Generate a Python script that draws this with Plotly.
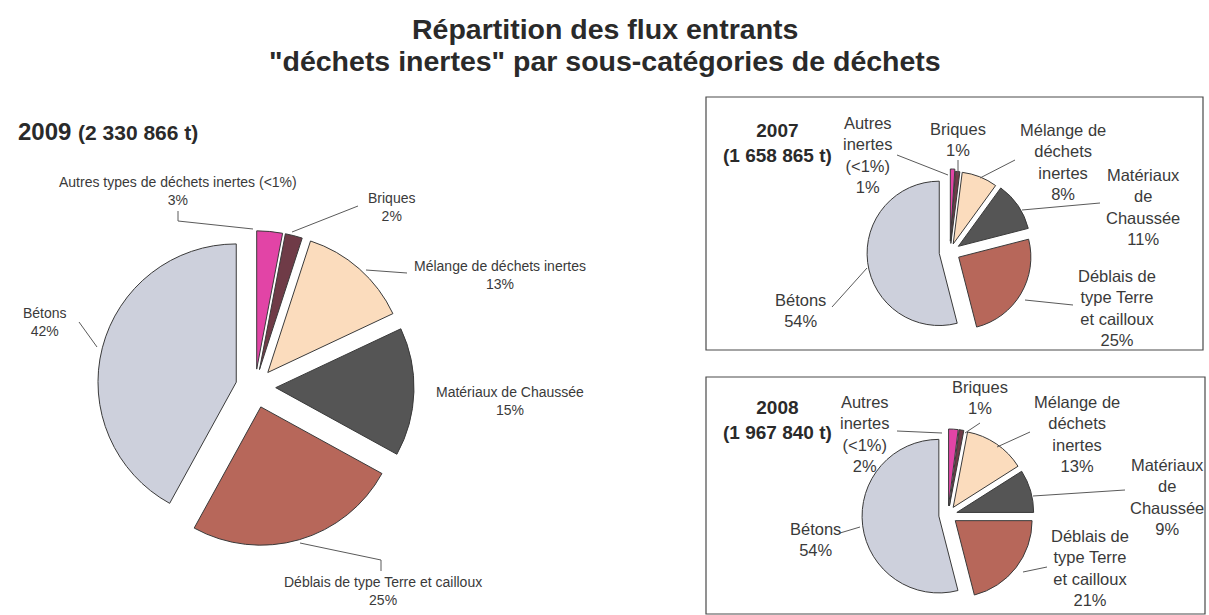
import plotly.graph_objects as go

# Sous-catégories de déchets inertes (ordre horaire à partir de midi)
categories = [
    "Autres types de déchets inertes (<1%)",
    "Briques",
    "Mélange de déchets inertes",
    "Matériaux de Chaussée",
    "Déblais de type Terre et cailloux",
    "Bétons",
]
# Libellés courts des encadrés 2007 / 2008
short_labels = [
    "Autres<br>inertes<br>(<1%)",
    "Briques",
    "Mélange de<br>déchets<br>inertes",
    "Matériaux<br>de<br>Chaussée",
    "Déblais de<br>type Terre<br>et cailloux",
    "Bétons",
]
pct_2009 = [3, 2, 13, 15, 25, 42]
pct_2007 = [1, 1, 8, 11, 25, 54]
pct_2008 = [2, 1, 13, 9, 21, 54]
tonnage = {"2009": "2 330 866 t", "2007": "1 658 865 t", "2008": "1 967 840 t"}

colors = ["#e244a6", "#6f3b47", "#fbdcbd", "#555555", "#b7675a", "#cdd0dc"]

W, H = 1209, 615
FONT = "Liberation Sans, Arial"


def px(x):
    return x / W


def py(y):
    return 1 - y / H


def pie(values, box, pull):
    x0, y0, x1, y1 = box
    return go.Pie(
        values=values,
        labels=categories,
        sort=False,
        direction="clockwise",
        rotation=0,
        pull=pull,
        textinfo="none",
        hoverinfo="label+percent",
        marker=dict(colors=colors, line=dict(color="#3a3a3a", width=1)),
        domain=dict(x=[px(x0), px(x1)], y=[py(y1), py(y0)]),
        showlegend=False,
    )


fig = go.Figure()
fig.add_trace(pie(pct_2009, (96, 228, 414, 546), [0.13, 0.13, 0.14, 0.15, 0.15, 0.14]))
fig.add_trace(pie(pct_2007, (867, 169, 1033, 335), [0.15, 0.12, 0.12, 0.14, 0.14, 0.15]))
fig.add_trace(pie(pct_2008, (862, 429, 1034, 601), [0.12, 0.12, 0.12, 0.12, 0.12, 0.12]))

annotations = []
shapes = []
TXT = "#3a3a3a"


def label(x, y, text, size):
    annotations.append(dict(
        x=px(x), y=py(y), xref="paper", yref="paper", text=text,
        showarrow=False, xanchor="center", yanchor="middle", align="center",
        font=dict(family=FONT, size=size, color=TXT),
    ))


def leader(points):
    path = "M " + " L ".join(f"{px(a)},{py(b)}" for a, b in points)
    shapes.append(dict(type="path", path=path, xref="paper", yref="paper",
                       line=dict(color="#5a5a5a", width=1)))


# --- titre ------------------------------------------------------------
for text, y in (("Répartition des flux entrants", 29),
                ("\"déchets inertes\" par sous-catégories de déchets", 61)):
    annotations.append(dict(
        x=0.5, y=py(y), xref="paper", yref="paper", xanchor="center", yanchor="middle",
        showarrow=False, text=f"<b>{text}</b>",
        font=dict(family=FONT, size=28.5, color="#2a2a2a"),
    ))

# --- 2009 -------------------------------------------------------------
annotations.append(dict(
    x=px(16), y=py(131), xref="paper", yref="paper", xanchor="left", yanchor="middle",
    showarrow=False,
    text=f"<b>2009</b> <b><span style='font-size:21px'>({tonnage['2009']})</span></b>",
    font=dict(family=FONT, size=24, color="#2a2a2a"),
))
pos_2009 = [(178, 191), (391, 207), (500, 275), (510, 401), (383, 591), (45, 322)]
for (x, y), name, v in zip(pos_2009, categories, pct_2009):
    label(x, y, f"{name}<br>{v}%", 14)
leader([(178, 211), (178, 221), (253, 229)])
leader([(358, 206), (292, 232)])
leader([(407, 273), (366, 270)])
leader([(381, 571), (381, 560), (300, 543)])
leader([(79, 322), (97, 347)])

# --- encadrés 2007 / 2008 ----------------------------------------------
shapes.append(dict(type="rect", xref="paper", yref="paper",
                   x0=px(706), y0=py(97), x1=px(1203), y1=py(350),
                   line=dict(color="#4a4a4a", width=1.2)))
shapes.append(dict(type="rect", xref="paper", yref="paper",
                   x0=px(706), y0=py(377), x1=px(1205), y1=py(614),
                   line=dict(color="#4a4a4a", width=1.2)))

for year, cy in (("2007", 143), ("2008", 420)):
    annotations.append(dict(
        x=px(777), y=py(cy), xref="paper", yref="paper", xanchor="center", yanchor="middle",
        showarrow=False, align="center",
        text=f"<b>{year}</b><br><b>({tonnage[year]})</b>",
        font=dict(family=FONT, size=19, color="#2a2a2a"),
    ))

SMALL = 16.5
pos_2007 = [(868, 155), (958, 139), (1063, 162), (1143, 207), (1117, 308), (800, 310)]
for (x, y), name, v in zip(pos_2007, short_labels, pct_2007):
    label(x, y, f"{name}<br>{v}%", SMALL)
leader([(897, 155), (948, 175)])
leader([(958, 160), (958, 175)])
leader([(1015, 160), (980, 178)])
leader([(1100, 203), (1022, 210)])
leader([(1073, 305), (1025, 300)])
leader([(832, 307), (867, 268)])

pos_2008 = [(865, 434), (980, 397), (1077, 434), (1167, 497), (1090, 568), (815, 539)]
for (x, y), name, v in zip(pos_2008, short_labels, pct_2008):
    label(x, y, f"{name}<br>{v}%", SMALL)
leader([(897, 431), (942, 433)])
leader([(980, 423), (965, 433)])
leader([(1030, 432), (997, 447)])
leader([(1125, 490), (1033, 496)])
leader([(1047, 567), (1023, 572)])
leader([(840, 533), (860, 527)])

fig.update_layout(
    width=W, height=H,
    margin=dict(l=0, r=0, t=0, b=0),
    paper_bgcolor="white", plot_bgcolor="white",
    annotations=annotations,
    shapes=shapes,
)

fig.write_html("out.html")
